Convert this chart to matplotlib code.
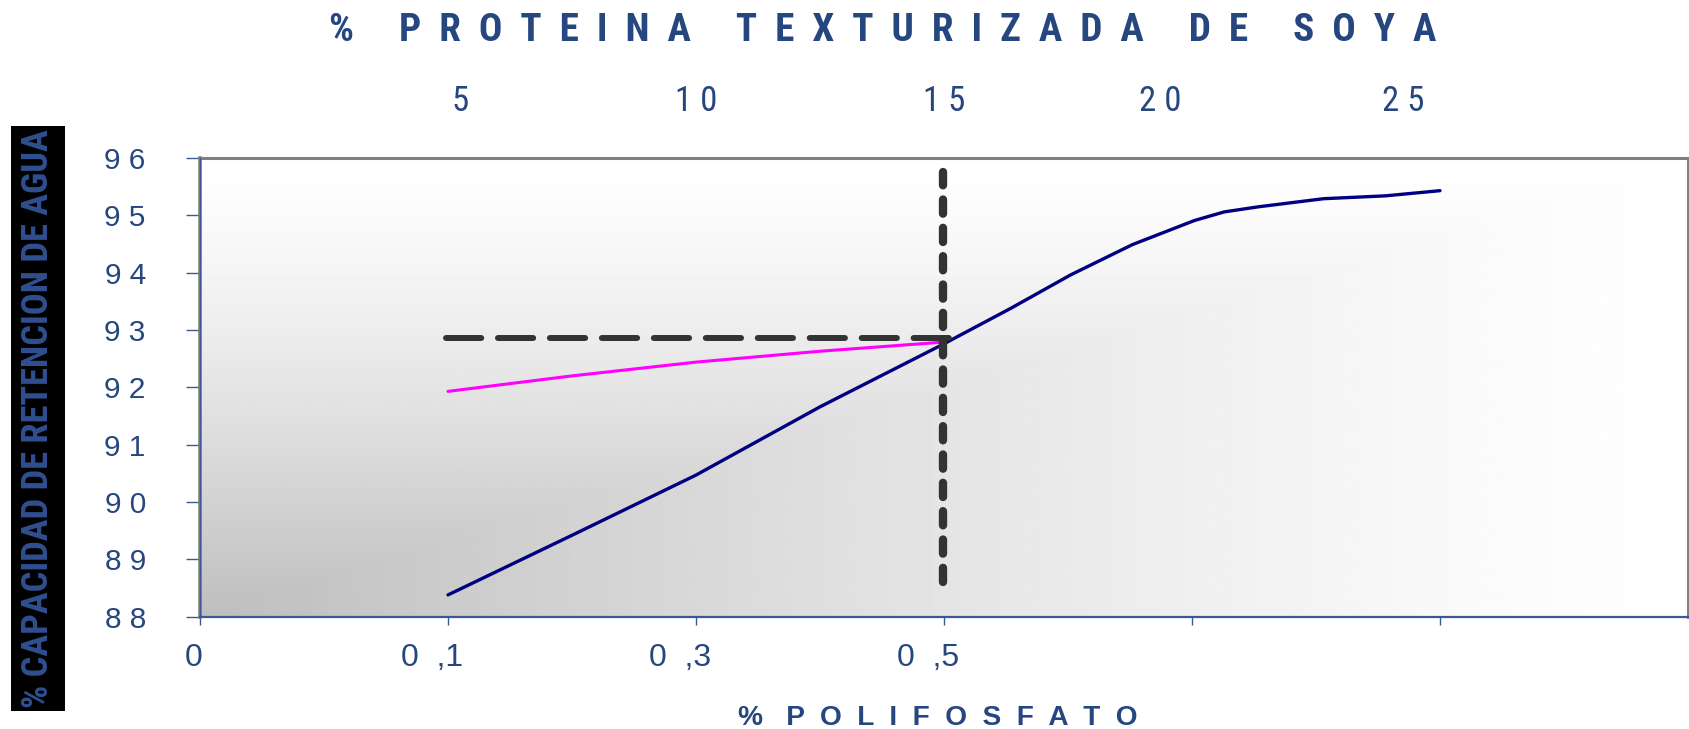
import numpy as np
import matplotlib
matplotlib.use("Agg")
import matplotlib.pyplot as plt
from matplotlib import font_manager as fm
from matplotlib.patches import Rectangle
from matplotlib.transforms import ScaledTranslation

# ---- values ----
poli_pos = [0, 1, 2, 3, 4, 5]
poli_labels = ['0', '0  ,1', '0  ,3', '0  ,5', '', '']
soya_pos = [1.05, 2.0, 3.0, 3.87, 4.85]
soya_labels = ['5', '1 0', '1 5', '2 0', '2 5']
cra_ticks = [88, 89, 90, 91, 92, 93, 94, 95, 96]

# blue curve (% proteina texturizada de soya)
soya_x = [1.0, 1.5, 2.0, 2.5, 3.0, 3.27, 3.51, 3.76, 4.01, 4.13, 4.27, 4.53, 4.78, 5.0]
soya_y = [88.38, 89.42, 90.47, 91.66, 92.76, 93.38, 93.96, 94.49, 94.91, 95.06, 95.15, 95.29, 95.34, 95.43]

# magenta curve (% polifosfato)
poli_x = [1.0, 1.5, 2.0, 2.5, 3.0]
poli_y = [91.93, 92.20, 92.44, 92.63, 92.79]

# reading guides
hguide_x = [0.99, 3.05]
hguide_y = [92.86, 92.86]
vguide_x = [2.995, 2.995]
vguide_y = [88.6, 95.75]

TXT = '#26467f'

names = {f.name for f in fm.fontManager.ttflist}
REG = 'Liberation Sans' if 'Liberation Sans' in names else 'DejaVu Sans'


def find_narrow():
    for cand in ['Liberation Sans Narrow', 'Arial Narrow', 'Roboto Condensed',
                 'Open Sans Condensed', 'DejaVu Sans Condensed', 'Noto Sans Condensed']:
        if cand in names:
            return cand, 'normal'
    for pref in ['Liberation Sans', 'Noto Sans', 'Open Sans', 'Roboto', 'DejaVu Sans']:
        for f in fm.fontManager.ttflist:
            if f.name == pref and str(f.stretch) in ('condensed', 'semi-condensed',
                                                     'extra-condensed', '300', '400'):
                return pref, 'condensed'
    return REG, 'normal'


NARROW, NSTRETCH = find_narrow()


def spaced(text, gap=2, word_gap=5):
    return (' ' * word_gap).join((' ' * gap).join(w) for w in text.split(' '))


W, H = 1690, 729
fig = plt.figure(figsize=(W / 100, H / 100), dpi=100)
ax = fig.add_axes([200 / W, 1 - 616.7 / H, 1488 / W, (616.7 - 158) / H])

# background gradient: dark in bottom-left corner, white towards top and right
gx, gy = np.meshgrid(np.linspace(0, 1, 500), np.linspace(0, 1, 250))
t = np.maximum(gx, gy)
dark = 190 / 255
shade = dark + (1 - dark) * (1 - (1 - t) ** 1.3)
ax.imshow(shade, cmap='gray', vmin=0, vmax=1, extent=[0, 6, 88, 96],
          origin='lower', aspect='auto', zorder=0, interpolation='bilinear')

ax.plot(soya_x, soya_y, color='#000080', lw=2.4, zorder=3, solid_capstyle='round')
ax.plot(poli_x, poli_y, color='#ff00ff', lw=2.2, zorder=3, solid_capstyle='round')
ax.plot(hguide_x, hguide_y, color='#333333', lw=4.3, dashes=(5.9, 2.8),
        dash_capstyle='round', zorder=4)
ax.plot(vguide_x, vguide_y, color='#333333', lw=6.0, dashes=(1.7, 1.7),
        dash_capstyle='round', zorder=4)

ax.set_xlim(0, 6)
ax.set_ylim(88, 96)

# spines
for s in ['top', 'right']:
    ax.spines[s].set_color('#808080')
    ax.spines[s].set_linewidth(2.2)
ax.spines['left'].set_color('#808080')
ax.spines['left'].set_linewidth(2.6)
ax.spines['bottom'].set_color('#3b5a94')
ax.spines['bottom'].set_linewidth(1.6)
ax.axvline(0, color='#3b5a94', lw=1.0, zorder=5, clip_on=False)

# y axis
ax.set_yticks(cra_ticks)
ax.set_yticklabels([' '.join(str(v)) for v in cra_ticks])
ax.tick_params(axis='y', direction='out', length=10, width=1.0, color='#3b5a94',
               pad=29, labelsize=21.5, labelcolor=TXT)
for lab in ax.get_yticklabels():
    lab.set_fontfamily(REG)

# bottom axis
ax.set_xticks(poli_pos)
ax.set_xticklabels(poli_labels)
ax.tick_params(axis='x', direction='out', length=5.8, width=1.0, color='#3b5a94',
               pad=13, labelsize=23, labelcolor=TXT)
offsets = [-6, -16, -16, -16, 0, 0]
for lab, dx in zip(ax.get_xticklabels(), offsets):
    lab.set_fontfamily(REG)
    lab.set_transform(lab.get_transform() + ScaledTranslation(dx / 100, 0, fig.dpi_scale_trans))

# top axis (% proteina texturizada de soya)
ax2 = ax.twiny()
ax2.set_xlim(ax.get_xlim())
ax2.set_xticks(soya_pos)
ax2.set_xticklabels(soya_labels)
top_size = 25 if NARROW != REG else 22
ax2.tick_params(axis='x', length=0, pad=29, labelsize=top_size, labelcolor=TXT)
for lab in ax2.get_xticklabels():
    lab.set_fontfamily(NARROW)
    lab.set_fontstretch(NSTRETCH)
for s in ax2.spines.values():
    s.set_visible(False)

# titles
title = fig.text(883 / W, 1 - 41 / H, spaced('% PROTEINA TEXTURIZADA DE SOYA', 2, 5),
                 ha='center', va='baseline', fontsize=23, fontweight='bold',
                 family=NARROW, fontstretch=NSTRETCH, color=TXT)
xlab = fig.text(938 / W, 1 - 725 / H, spaced('% POLIFOSFATO', 2, 3),
                ha='center', va='baseline', fontsize=20, fontweight='bold',
                family=REG, color=TXT)

# y label inside a black box
fig.patches.append(Rectangle((11 / W, 1 - 711 / H), 54 / W, 585 / H,
                             transform=fig.transFigure, facecolor='black',
                             edgecolor='none', zorder=0))
ylab = fig.text(38 / W, 1 - 418.5 / H, '% CAPACIDAD DE RETENCION DE AGUA',
                rotation=90, ha='center', va='center', fontsize=20, fontweight='bold',
                family=NARROW, fontstretch=NSTRETCH, color='#2f4f8f', zorder=2)


# scale the long labels so they span the same length as in the original
def fit(txt, target, vertical=False):
    fig.canvas.draw()
    bb = txt.get_window_extent()
    size = bb.height if vertical else bb.width
    txt.set_fontsize(txt.get_fontsize() * target / size)


fit(title, 1112)
fit(xlab, 401)
fit(ylab, 578, vertical=True)

fig.savefig('out.png', dpi=100)
